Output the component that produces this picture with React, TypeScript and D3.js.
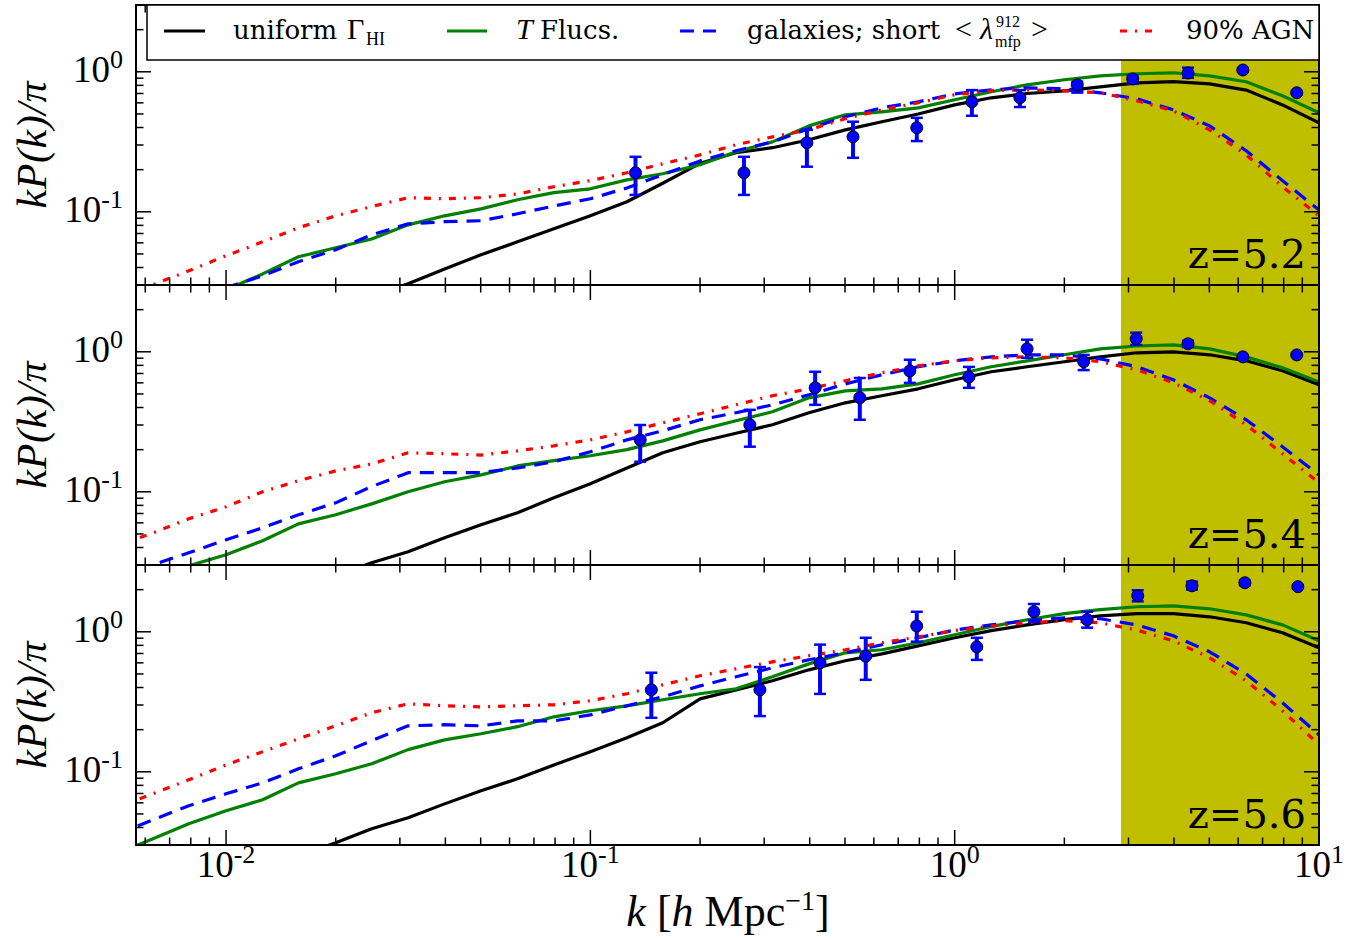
import React from "react";
import * as d3 from "d3";

// ---------- data ----------
const kGrid = [0.005, 0.0063, 0.0079, 0.01, 0.0126, 0.0158, 0.02, 0.0251, 0.0316, 0.0398, 0.0501, 0.0631, 0.0794, 0.1, 0.126, 0.158, 0.2, 0.251, 0.316, 0.398, 0.501, 0.631, 0.794, 1.0, 1.26, 1.58, 2.0, 2.51, 3.16, 3.98, 5.01, 6.31, 7.94, 10.0];

const uniform52 = [0.0052, 0.0065, 0.0081, 0.0102, 0.0126, 0.0158, 0.0196, 0.0247, 0.0306, 0.039, 0.0493, 0.061, 0.0756, 0.0936, 0.118, 0.16, 0.222, 0.264, 0.287, 0.327, 0.385, 0.44, 0.5, 0.58, 0.652, 0.70, 0.73, 0.78, 0.834, 0.85, 0.82, 0.74, 0.58, 0.432];
const tflucs52 = [0.0126, 0.0164, 0.0213, 0.0277, 0.036, 0.0477, 0.0553, 0.064, 0.0807, 0.0936, 0.105, 0.122, 0.137, 0.146, 0.169, 0.187, 0.217, 0.268, 0.316, 0.411, 0.493, 0.518, 0.553, 0.631, 0.72, 0.807, 0.877, 0.936, 0.968, 0.984, 0.936, 0.849, 0.674, 0.51];
const galaxies52 = [0.0151, 0.0187, 0.0231, 0.0287, 0.0349, 0.044, 0.0535, 0.0685, 0.082, 0.085, 0.0863, 0.0968, 0.110, 0.124, 0.148, 0.184, 0.231, 0.273, 0.316, 0.392, 0.477, 0.553, 0.61, 0.696, 0.744, 0.768, 0.756, 0.708, 0.641, 0.535, 0.411, 0.273, 0.167, 0.103];
const agn52 = [0.0239, 0.0301, 0.0379, 0.0485, 0.061, 0.0769, 0.0936, 0.109, 0.126, 0.124, 0.126, 0.134, 0.151, 0.167, 0.19, 0.22, 0.255, 0.301, 0.343, 0.385, 0.462, 0.535, 0.601, 0.685, 0.732, 0.744, 0.732, 0.708, 0.621, 0.526, 0.385, 0.255, 0.151, 0.0936];

const uniform54 = [0.0069, 0.0085, 0.0107, 0.0132, 0.0164, 0.0203, 0.0251, 0.0311, 0.0373, 0.0469, 0.0581, 0.0708, 0.0906, 0.114, 0.148, 0.19, 0.228, 0.262, 0.301, 0.367, 0.432, 0.485, 0.544, 0.631, 0.72, 0.782, 0.849, 0.92, 0.984, 1.0, 0.952, 0.862, 0.732, 0.582];
const tflucs54 = [0.0196, 0.0243, 0.0296, 0.0355, 0.0447, 0.059, 0.0685, 0.082, 0.1, 0.118, 0.132, 0.153, 0.167, 0.181, 0.2, 0.231, 0.277, 0.322, 0.373, 0.469, 0.526, 0.544, 0.59, 0.685, 0.782, 0.862, 0.952, 1.05, 1.10, 1.12, 1.05, 0.92, 0.768, 0.61];
const galaxies54 = [0.0243, 0.0301, 0.0367, 0.0454, 0.0553, 0.0685, 0.0834, 0.109, 0.137, 0.137, 0.137, 0.148, 0.164, 0.193, 0.235, 0.273, 0.327, 0.367, 0.418, 0.493, 0.59, 0.685, 0.782, 0.862, 0.92, 0.952, 0.952, 0.891, 0.782, 0.631, 0.469, 0.327, 0.21, 0.132];
const agn54 = [0.0411, 0.0509, 0.0641, 0.0781, 0.1, 0.12, 0.141, 0.158, 0.19, 0.187, 0.183, 0.196, 0.213, 0.235, 0.268, 0.311, 0.361, 0.418, 0.485, 0.544, 0.621, 0.708, 0.794, 0.862, 0.906, 0.92, 0.906, 0.849, 0.744, 0.601, 0.447, 0.301, 0.187, 0.116];

const uniform56 = [0.0088, 0.0109, 0.0134, 0.0164, 0.0203, 0.0251, 0.0311, 0.0392, 0.0469, 0.059, 0.0731, 0.0891, 0.112, 0.139, 0.175, 0.224, 0.332, 0.385, 0.447, 0.535, 0.621, 0.696, 0.794, 0.906, 1.02, 1.12, 1.22, 1.30, 1.35, 1.35, 1.28, 1.16, 0.984, 0.768];
const tflucs56 = [0.026, 0.0332, 0.0425, 0.0527, 0.0631, 0.0834, 0.0968, 0.114, 0.144, 0.169, 0.187, 0.21, 0.247, 0.273, 0.296, 0.327, 0.361, 0.392, 0.477, 0.59, 0.708, 0.744, 0.835, 0.952, 1.09, 1.22, 1.35, 1.44, 1.51, 1.53, 1.46, 1.32, 1.12, 0.862];
const galaxies56 = [0.0355, 0.0454, 0.0572, 0.0697, 0.0834, 0.105, 0.13, 0.167, 0.213, 0.217, 0.213, 0.231, 0.231, 0.255, 0.296, 0.343, 0.411, 0.477, 0.553, 0.631, 0.708, 0.808, 0.906, 1.03, 1.12, 1.2, 1.26, 1.24, 1.12, 0.936, 0.72, 0.5, 0.311, 0.184];
const agn56 = [0.0553, 0.0697, 0.0877, 0.112, 0.139, 0.172, 0.213, 0.264, 0.306, 0.296, 0.291, 0.296, 0.301, 0.322, 0.361, 0.418, 0.485, 0.544, 0.61, 0.674, 0.744, 0.835, 0.92, 1.02, 1.10, 1.16, 1.2, 1.16, 1.03, 0.862, 0.652, 0.447, 0.273, 0.156];

// observed points
const obsK52 = [0.133, 0.264, 0.393, 0.526, 0.787, 1.115, 1.51, 2.17, 3.08, 4.37, 6.18, 8.69];
const obsV52 = [0.19, 0.19, 0.311, 0.343, 0.398, 0.61, 0.652, 0.807, 0.89, 0.98, 1.03, 0.708];
const obsLo52 = [0.132, 0.132, 0.21, 0.243, 0.32, 0.485, 0.56, 0.71, 0.82, 0.906, 1.0, 0.69];
const obsHi52 = [0.247, 0.247, 0.385, 0.44, 0.469, 0.74, 0.74, 0.85, 0.94, 1.07, 1.06, 0.72];

const obsK54 = [0.137, 0.274, 0.414, 0.549, 0.753, 1.094, 1.58, 2.26, 3.15, 4.37, 6.18, 8.69];
const obsV54 = [0.235, 0.301, 0.553, 0.47, 0.73, 0.66, 1.05, 0.85, 1.24, 1.14, 0.92, 0.95];
const obsLo54 = [0.164, 0.21, 0.418, 0.327, 0.6, 0.553, 0.906, 0.74, 1.12, 1.08, 0.9, 0.93];
const obsHi54 = [0.30, 0.385, 0.72, 0.65, 0.877, 0.78, 1.22, 0.95, 1.37, 1.2, 0.94, 0.97];

const obsK56 = [0.147, 0.292, 0.427, 0.570, 0.787, 1.15, 1.65, 2.31, 3.18, 4.48, 6.26, 8.75];
const obsV56 = [0.385, 0.385, 0.6, 0.67, 1.10, 0.78, 1.39, 1.22, 1.81, 2.13, 2.24, 2.10];
const obsLo56 = [0.243, 0.25, 0.36, 0.454, 0.85, 0.63, 1.18, 1.07, 1.65, 2.0, 2.15, 2.05];
const obsHi56 = [0.51, 0.56, 0.81, 0.906, 1.39, 0.906, 1.58, 1.39, 1.98, 2.28, 2.33, 2.15];

const redshiftLabels = ["z=5.2", "z=5.4", "z=5.6"];
const shadeStartK = 2.86;
const xDomain = [0.00566, 10];
const yDomain = [0.03, 3];
const xMajorTicks = [0.01, 0.1, 1, 10];
const xMajorExp = ["-2", "-1", "0", "1"];
const yMajorTicks = [0.1, 1];
const yMajorExp = ["-1", "0"];

const seriesNames = ["uniform", "tflucs", "galaxies", "agn"];
const seriesColors = ["#000000", "#008000", "#0000ff", "#ff0000"];
const seriesDash = [null, null, "14,9", "7,8,2,8"];

const panels = [
  { lines: [uniform52, tflucs52, galaxies52, agn52], k: obsK52, v: obsV52, lo: obsLo52, hi: obsHi52 },
  { lines: [uniform54, tflucs54, galaxies54, agn54], k: obsK54, v: obsV54, lo: obsLo54, hi: obsHi54 },
  { lines: [uniform56, tflucs56, galaxies56, agn56], k: obsK56, v: obsV56, lo: obsLo56, hi: obsHi56 },
];

// ---------- layout ----------
const X0 = 136, X1 = 1319;
const TOPS = [5, 285, 565];
const PH = 280;
const MAJ = 15, MIN = 7.5;
const SERIF = "'DejaVu Serif', serif";
const MATH = "'Liberation Serif', serif";

const xScale = d3.scaleLog().domain(xDomain).range([X0, X1]);

function minorValues(lo: number, hi: number, majors: number[]) {
  const out: number[] = [];
  for (let e = -4; e <= 2; e++) {
    for (let m = 1; m <= 9; m++) {
      const v = m * Math.pow(10, e);
      if (v > lo * 1.0001 && v < hi * 0.9999 && !majors.some((t) => Math.abs(t - v) / v < 1e-6)) out.push(v);
    }
  }
  return out;
}
const xMinor = minorValues(xDomain[0], xDomain[1], xMajorTicks);
const yMinor = minorValues(yDomain[0], yDomain[1], yMajorTicks);

function Panel({ idx }: { idx: number }) {
  const top = TOPS[idx];
  const bottom = top + PH;
  const p = panels[idx];
  const y = d3.scaleLog().domain(yDomain).range([bottom, top]);
  const line = d3.line<number>().x((_, i) => xScale(kGrid[i])).y((v) => y(v));
  const clipId = `clip${idx}`;
  const xs = xScale(shadeStartK);
  return (
    <g>
      <defs>
        <clipPath id={clipId}>
          <rect x={X0} y={top} width={X1 - X0} height={PH} />
        </clipPath>
      </defs>
      <rect x={xs} y={top} width={X1 - xs} height={PH} fill="#bfbf00" />
      <g clipPath={`url(#${clipId})`}>
        {p.lines.map((vals, si) => (
          <path key={si} d={line(vals) || ""} fill="none" stroke={seriesColors[si]} strokeWidth={3.2}
            strokeDasharray={seriesDash[si] || undefined} strokeLinejoin="round" />
        ))}
        {p.k.map((k, i) => {
          const cx = xScale(k);
          return (
            <g key={i}>
              <line x1={cx} x2={cx} y1={y(p.lo[i])} y2={y(p.hi[i])} stroke="#0000ff" strokeWidth={4} />
              <line x1={cx - 6} x2={cx + 6} y1={y(p.lo[i])} y2={y(p.lo[i])} stroke="#0000ff" strokeWidth={2.5} />
              <line x1={cx - 6} x2={cx + 6} y1={y(p.hi[i])} y2={y(p.hi[i])} stroke="#0000ff" strokeWidth={2.5} />
              <circle cx={cx} cy={y(p.v[i])} r={6} fill="#0000ff" stroke="#000" strokeWidth={1} />
            </g>
          );
        })}
      </g>
      {/* ticks */}
      <g stroke="#000" strokeWidth={1.5}>
        {xMajorTicks.map((t) => (
          <g key={"xM" + t}>
            <line x1={xScale(t)} x2={xScale(t)} y1={top} y2={top + MAJ} />
            <line x1={xScale(t)} x2={xScale(t)} y1={bottom} y2={bottom - MAJ} />
          </g>
        ))}
        {xMinor.map((t) => (
          <g key={"xm" + t}>
            <line x1={xScale(t)} x2={xScale(t)} y1={top} y2={top + MIN} />
            <line x1={xScale(t)} x2={xScale(t)} y1={bottom} y2={bottom - MIN} />
          </g>
        ))}
        {yMajorTicks.map((t) => (
          <g key={"yM" + t}>
            <line x1={X0} x2={X0 + MAJ} y1={y(t)} y2={y(t)} />
            <line x1={X1} x2={X1 - MAJ} y1={y(t)} y2={y(t)} />
          </g>
        ))}
        {yMinor.map((t) => (
          <g key={"ym" + t}>
            <line x1={X0} x2={X0 + MIN} y1={y(t)} y2={y(t)} />
            <line x1={X1} x2={X1 - MIN} y1={y(t)} y2={y(t)} />
          </g>
        ))}
      </g>
      <rect x={X0} y={top} width={X1 - X0} height={PH} fill="none" stroke="#000" strokeWidth={2} />
      {/* y tick labels */}
      {yMajorTicks.map((t, i) => (
        <text key={"yl" + t} x={123} y={y(t) + 10} textAnchor="end" fontFamily={MATH} fontSize={37}>
          10<tspan fontSize={26} dy={-14}>{yMajorExp[i]}</tspan>
        </text>
      ))}
      {/* y axis label */}
      <text transform={`translate(46, ${top + PH / 2}) rotate(-90)`} textAnchor="middle" fontFamily={MATH}
        fontStyle="italic" fontSize={42} textLength={127} lengthAdjust="spacing">
        kP(k)/π
      </text>
      <text x={1306} y={top + 263} textAnchor="end" fontFamily={SERIF} fontSize={40}>{redshiftLabels[idx]}</text>
    </g>
  );
}

function Legend() {
  const ly = 31;
  return (
    <g>
      <rect x={147} y={5} width={1172} height={55} fill="#fff" stroke="#000" strokeWidth={1.5} />
      <line x1={164} x2={205} y1={ly} y2={ly} stroke={seriesColors[0]} strokeWidth={3} />
      <text x={233} y={39} fontFamily={SERIF} fontSize={26}>uniform </text>
      <text x={347} y={39} fontFamily={MATH} fontSize={30}>Γ</text>
      <text x={366} y={45} fontFamily={MATH} fontSize={18}>HI</text>

      <line x1={447} x2={487} y1={ly} y2={ly} stroke={seriesColors[1]} strokeWidth={3} />
      <text x={516} y={39} fontFamily={MATH} fontStyle="italic" fontSize={30}>T</text>
      <text x={540} y={39} fontFamily={SERIF} fontSize={26}>Flucs.</text>

      <line x1={680} x2={716} y1={ly} y2={ly} stroke={seriesColors[2]} strokeWidth={3} strokeDasharray={seriesDash[2] as string} />
      <text x={747} y={39} fontFamily={SERIF} fontSize={26}>galaxies; short</text>
      <text x={955} y={39} fontFamily={MATH} fontSize={30}>&lt;</text>
      <text x={980} y={39} fontFamily={MATH} fontStyle="italic" fontSize={30}>λ</text>
      <text x={996} y={27} fontFamily={MATH} fontSize={16}>912</text>
      <text x={995} y={47} fontFamily={MATH} fontSize={16}>mfp</text>
      <text x={1031} y={39} fontFamily={MATH} fontSize={30}>&gt;</text>

      <line x1={1120} x2={1156} y1={ly} y2={ly} stroke={seriesColors[3]} strokeWidth={3} strokeDasharray={seriesDash[3] as string} />
      <text x={1186} y={39} fontFamily={SERIF} fontSize={26}>90% AGN</text>
    </g>
  );
}

export default function App() {
  const bottom = TOPS[2] + PH;
  return (
    <svg width={1362} height={940} style={{ position: "absolute", left: 0, top: 0, background: "#fff" }}>
      <rect x={0} y={0} width={1362} height={940} fill="#fff" />
      {panels.map((_, i) => <Panel key={seriesNames[i] + i} idx={i} />)}
      <Legend />
      {xMajorTicks.map((t, i) => (
        <text key={"xl" + t} x={xScale(t)} y={bottom + 32} textAnchor="middle" fontFamily={MATH} fontSize={37}>
          10<tspan fontSize={26} dy={-14}>{xMajorExp[i]}</tspan>
        </text>
      ))}
      <text x={728} y={926} textAnchor="middle" fontFamily={MATH} fontSize={44}>
        <tspan fontStyle="italic">k</tspan> [<tspan fontStyle="italic">h</tspan> Mpc<tspan fontSize={28} dy={-16}>−1</tspan><tspan dy={16}>]</tspan>
      </text>
    </svg>
  );
}
